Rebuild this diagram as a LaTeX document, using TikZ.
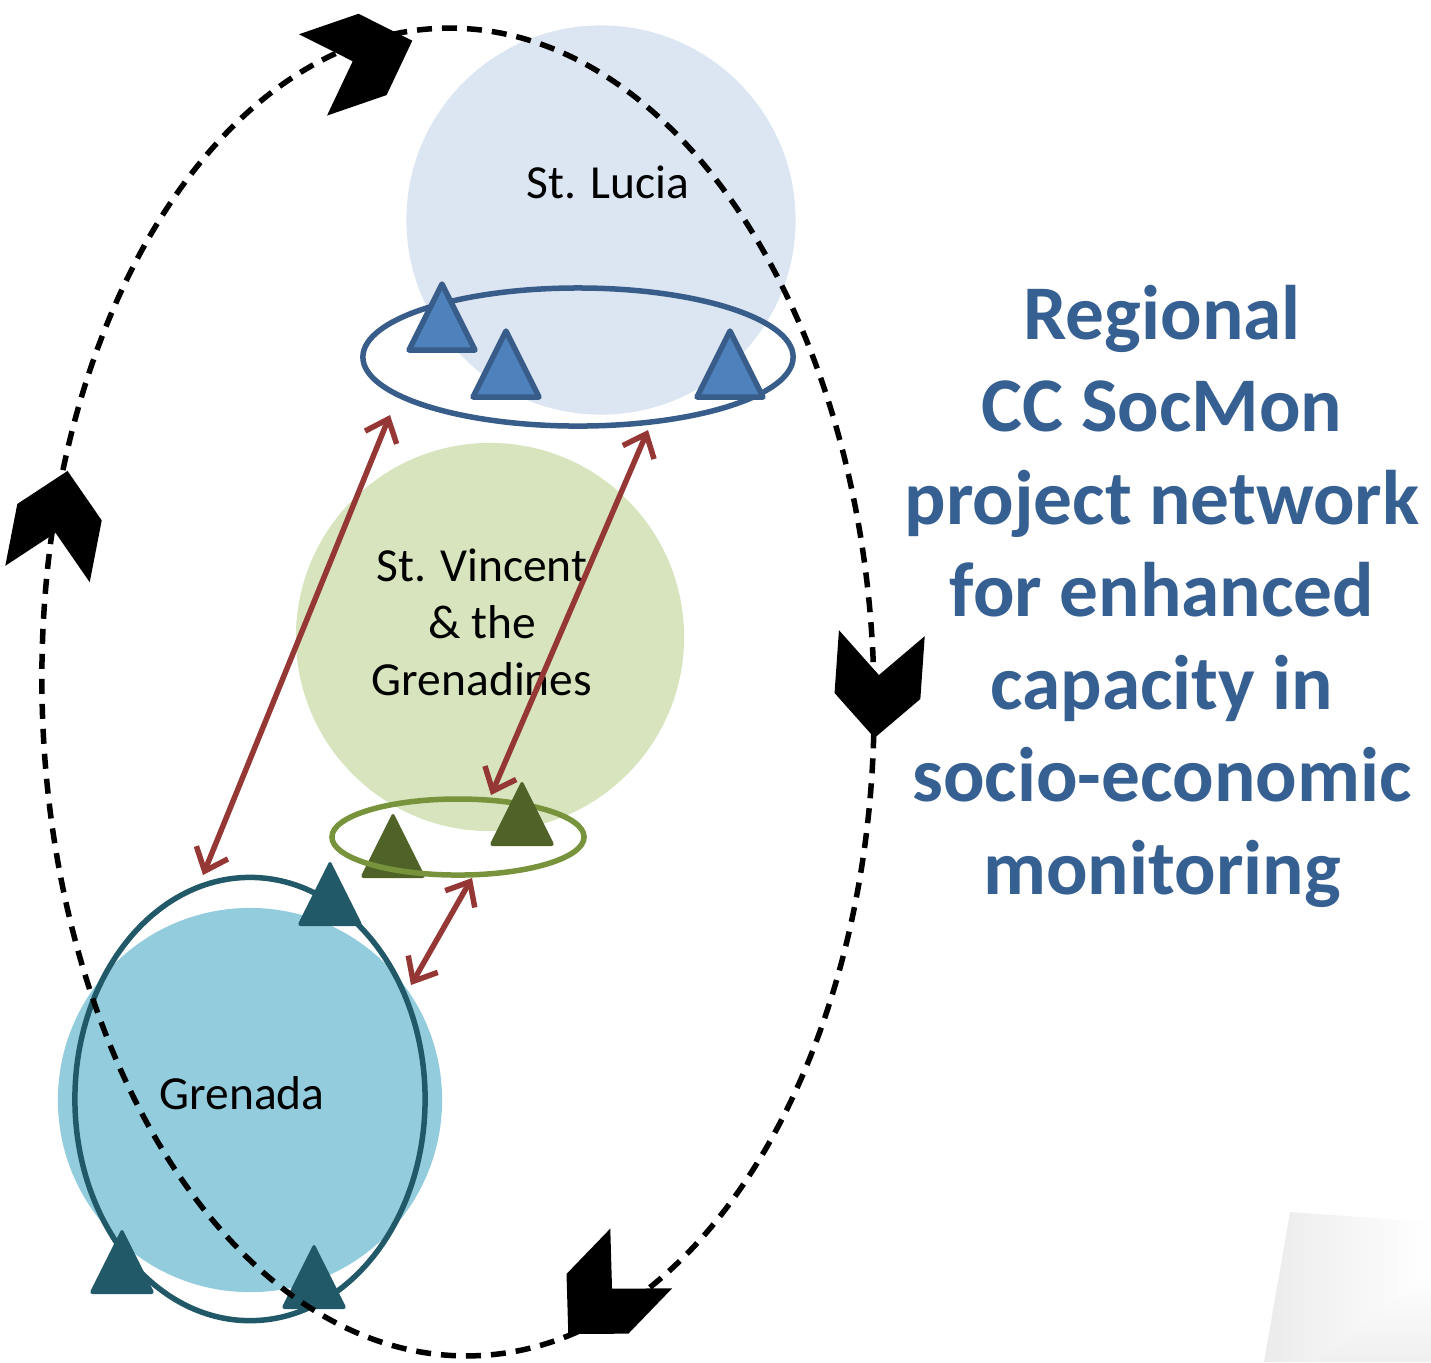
\documentclass[tikz,border=0pt]{standalone}
\usepackage{fontspec}
\setmainfont{Carlito}
\usepackage{tikz}
\usetikzlibrary{arrows.meta,shapes.geometric}

\definecolor{luciafill}{HTML}{DCE6F2}
\definecolor{luciaring}{HTML}{385D8A}
\definecolor{luciapeak}{HTML}{4F81BD}
\definecolor{vincefill}{HTML}{D7E4BD}
\definecolor{vincering}{HTML}{77933C}
\definecolor{vincepeak}{HTML}{4F6228}
\definecolor{grenfill}{HTML}{93CDDD}
\definecolor{grenring}{HTML}{215968}
\definecolor{linkred}{HTML}{953735}
\definecolor{titleblue}{HTML}{376092}

\tikzset{
  peak/.pic={\path[pic actions] (-33,0) -- (0,-66) -- (33,0) -- cycle;},
  chevron/.pic={\fill[black] (-55,43) -- (-13,0) -- (-55,-43) -- (8,-43) -- (50,0) -- (8,43) -- cycle;}
}

\begin{document}
\begin{tikzpicture}[x=0.01cm,y=-0.01cm,
    isle/.style={circle,inner sep=0pt,minimum size=#1},
    ring/.style={ellipse,draw,line width=0.055cm,inner sep=0pt},
    lbl/.style={font=\fontsize{13.5}{16.2}\selectfont,align=center},
    link/.style={<->,>={Straight Barb[length=2mm,width=3.4mm]},draw=linkred,line width=0.055cm},
    loop/.style={draw=black,line width=0.055cm,dash pattern=on 0.15cm off 0.1cm}]
\useasboundingbox (0,0) rectangle (1431,1362);

\node[isle=3.89cm,fill=luciafill] (lucia) at (601,220) {};
\node[isle=3.88cm,fill=vincefill] (vince) at (490,637) {};
\node[isle=3.84cm,fill=grenfill] (gren) at (250,1100) {};

\node[lbl] (lucia lbl) at (608,182) {St. Lucia};
\node[lbl] (vince lbl) at (482,622) {St. Vincent\\\& the\\Grenadines};
\node[lbl] (gren lbl) at (242,1093) {Grenada};

\node[ring,draw=luciaring,minimum width=4.3cm,minimum height=1.38cm] (lucia ring) at (578,357) {};
\node[ring,draw=grenring,minimum width=3.5cm,minimum height=4.43cm] (gren ring) at (250,1099) {};

\pic[fill=luciapeak,draw=luciaring,line width=0.055cm,line join=round] (lp1) at (442,350) {peak};
\pic[fill=luciapeak,draw=luciaring,line width=0.055cm,line join=round] (lp2) at (506,397) {peak};
\pic[fill=luciapeak,draw=luciaring,line width=0.055cm,line join=round] (lp3) at (730,397) {peak};

\pic[fill=vincepeak,rounded corners=1pt] (vp1) at (393,878) {peak};
\node[ring,draw=vincering,minimum width=2.52cm,minimum height=0.76cm] (vince ring) at (458,837) {};
\pic[fill=vincepeak,rounded corners=1pt] (vp2) at (522,846) {peak};

\pic[fill=grenring,rounded corners=1pt] (gp1) at (330,926) {peak};
\pic[fill=grenring,rounded corners=1pt] (gp2) at (122,1294) {peak};
\pic[fill=grenring,rounded corners=1pt] (gp3) at (314,1309) {peak};

\coordinate (lucia a) at (390,415);
\coordinate (lucia b) at (648,430);
\coordinate (vince a) at (491,795);
\coordinate (vince b) at (472,878);
\coordinate (gren a) at (203,875);
\coordinate (gren b) at (411,985);

\draw[link] (lucia a) -- (gren a);
\draw[link] (lucia b) -- (vince a);
\draw[link] (vince b) -- (gren b);

\path[loop] (458,692) ellipse [x radius=416,y radius=664,rotate=1.2];

\pic[rotate=19] (cv1) at (365,57) {chevron};
\pic[rotate=-94] (cv2) at (878,688) {chevron};
\pic[rotate=-134] (cv3) at (603,1298) {chevron};
\pic[rotate=79] (cv4) at (58,520) {chevron};

\node[font=\bfseries\fontsize{22}{26.3}\selectfont,text=titleblue,align=center] (title) at (1162,596)
  {Regional\\CC SocMon\\project network\\for enhanced\\capacity in\\socio-economic\\monitoring};

\shade[left color=gray!45,right color=white,opacity=0.35] (1290,1212) -- (1431,1222) -- (1431,1270) -- (1317,1362) -- (1264,1362) -- cycle;
\shade[top color=white,bottom color=gray!35,opacity=0.35] (1317,1362) -- (1431,1270) -- (1431,1362) -- cycle;
\end{tikzpicture}
\end{document}
